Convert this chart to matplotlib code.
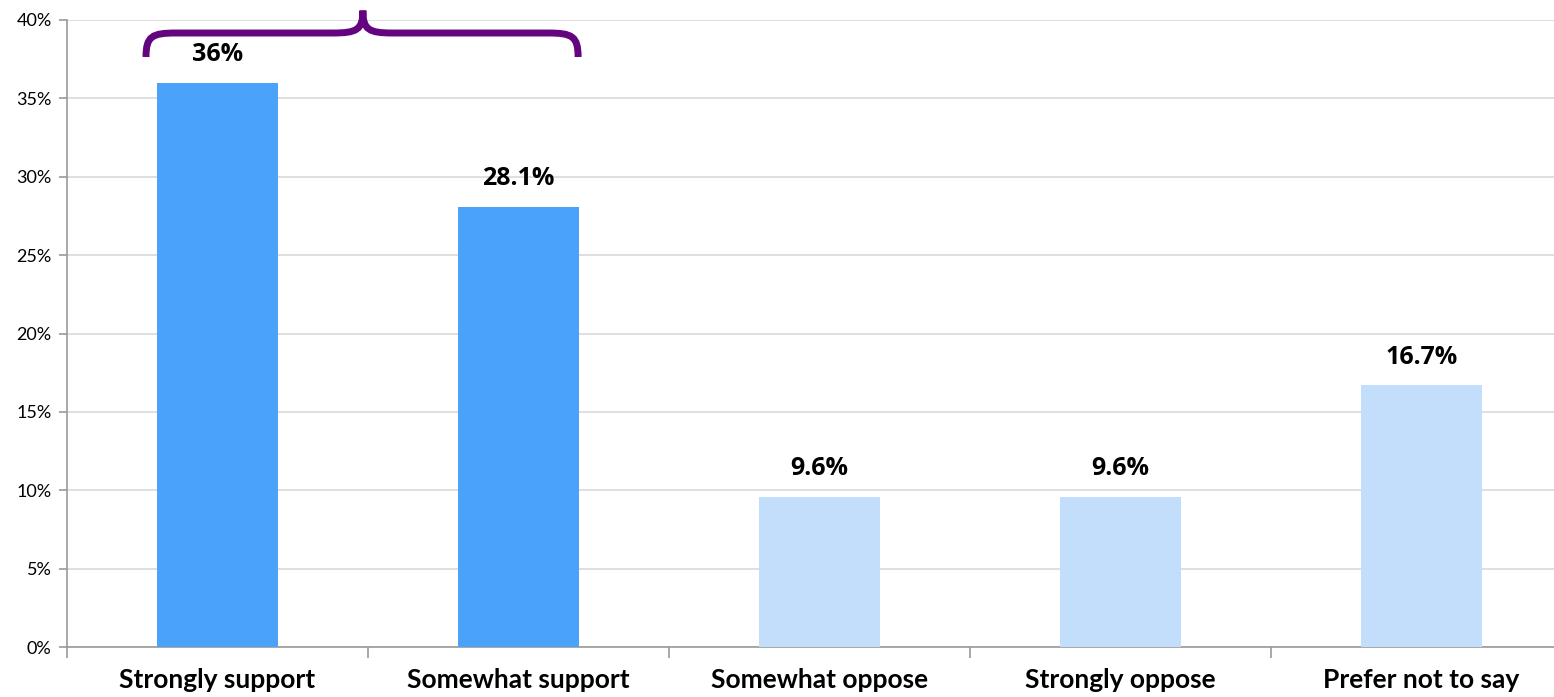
import matplotlib.pyplot as plt
import numpy as np
from matplotlib.path import Path
from matplotlib.patches import PathPatch

categories = ["Strongly support", "Somewhat support", "Somewhat oppose",
              "Strongly oppose", "Prefer not to say"]
values = [36.0, 28.1, 9.6, 9.6, 16.7]
labels = ["36%", "28.1%", "9.6%", "9.6%", "16.7%"]
colors = ["#4AA2F9", "#4AA2F9", "#C2DEFA", "#C2DEFA", "#C2DEFA"]

fig = plt.figure(figsize=(15.54, 6.97), dpi=100)
ax = fig.add_axes([67 / 1554, 50 / 697, 1505 / 1554, 627 / 697])

x = np.arange(len(categories))
ax.bar(x, values, width=0.4, color=colors, zorder=3)

for xi, v, lab in zip(x, values, labels):
    ax.annotate(lab, (xi, v), xytext=(0, 11), textcoords="offset points",
                ha="center", va="bottom", fontsize=18, fontweight="bold",
                family="Open Sans", color="black", zorder=4)

ax.set_xlim(-0.5, len(categories) - 0.5)
ax.set_ylim(0, 40)
ax.set_yticks(np.arange(0, 41, 5))
ax.set_yticklabels([f"{t}%" for t in range(0, 41, 5)], family="Lato", fontsize=13)
ax.yaxis.grid(True, color="#D9D9D9", lw=1.2, zorder=0)

# category labels centred, tick marks on the boundaries between categories
ax.set_xticks(x)
ax.set_xticklabels(categories, family="Lato", fontsize=19, fontweight="bold")
ax.tick_params(axis="x", length=0, pad=15)
ax.set_xticks(np.arange(-0.5, len(categories)), minor=True)
ax.tick_params(axis="x", which="minor", length=8, color="#999999", width=1.2)
ax.tick_params(axis="y", length=6, color="#999999", width=1.2, pad=5)

for side in ["top", "right"]:
    ax.spines[side].set_visible(False)
for side in ["left", "bottom"]:
    ax.spines[side].set_color("#999999")
    ax.spines[side].set_linewidth(1.2)

# curly brace grouping the two "support" bars
xl, xr, xm = -0.2375, 1.198, 0.483
yb, yh, yt = 37.64, 39.17, 40.6
dx = 0.1
verts = [
    (xl, yb), (xl, yh - 0.2), (xl + 0.02, yh), (xl + dx, yh),
    (xm - dx, yh),
    (xm - 0.02, yh), (xm, yh + 0.2), (xm, yt),
    (xm, yh + 0.2), (xm + 0.02, yh), (xm + dx, yh),
    (xr - dx, yh),
    (xr - 0.02, yh), (xr, yh - 0.2), (xr, yb),
]
codes = [Path.MOVETO, Path.CURVE4, Path.CURVE4, Path.CURVE4,
         Path.LINETO,
         Path.CURVE4, Path.CURVE4, Path.CURVE4,
         Path.CURVE4, Path.CURVE4, Path.CURVE4,
         Path.LINETO,
         Path.CURVE4, Path.CURVE4, Path.CURVE4]
ax.add_patch(PathPatch(Path(verts, codes), fill=False, edgecolor="#64047F",
                       lw=5, capstyle="butt", clip_on=False, zorder=5))

fig.savefig("out.png", dpi=100)
